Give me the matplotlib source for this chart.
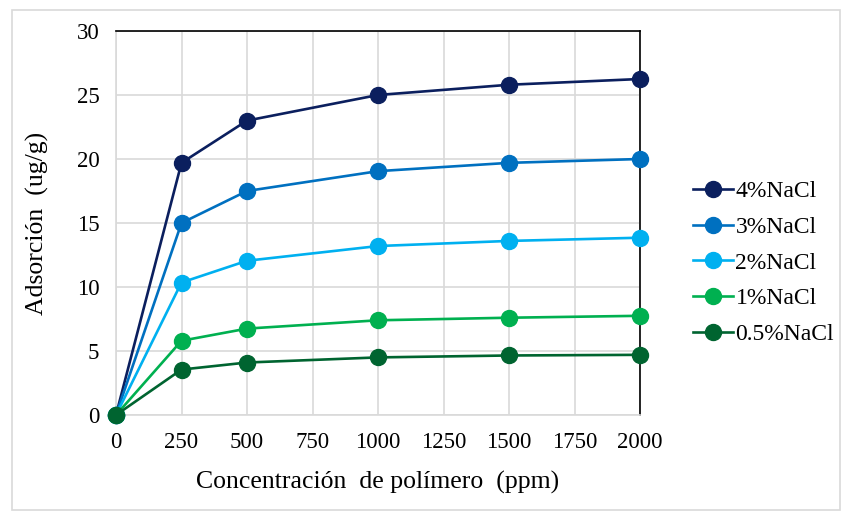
import matplotlib
matplotlib.use("Agg")
import matplotlib.pyplot as plt
from matplotlib.patches import Rectangle

plt.rcParams['font.family'] = ['Liberation Serif', 'DejaVu Serif']

conc = [0, 250, 500, 1000, 1500, 2000]
labels = ['4%NaCl', '3%NaCl', '2%NaCl', '1%NaCl', '0.5%NaCl']
nacl_4 = [0, 19.7, 23.0, 25.0, 25.8, 26.25]
nacl_3 = [0, 15.0, 17.5, 19.05, 19.7, 20.0]
nacl_2 = [0, 10.35, 12.05, 13.2, 13.6, 13.85]
nacl_1 = [0, 5.8, 6.75, 7.4, 7.6, 7.75]
nacl_05 = [0, 3.55, 4.1, 4.5, 4.65, 4.7]
colors = ['#0B1F5E', '#0070C0', '#00B0F0', '#00B050', '#006430']

series = [nacl_4, nacl_3, nacl_2, nacl_1, nacl_05]

fig = plt.figure(figsize=(8.42, 5.12), dpi=100)
fig.patches.append(Rectangle((12 / 842, 2 / 512), 828 / 842, 500 / 512, transform=fig.transFigure,
                             fill=False, edgecolor='#d9d9d9', linewidth=1.2))
ax = fig.add_axes([116 / 842, 97 / 512, 524 / 842, 384 / 512])

for vals, lab, col in zip(series, labels, colors):
    ax.plot(conc, vals, color=col, linewidth=1.9, marker='o', markersize=11.5,
            label=lab, clip_on=False, zorder=3)

ax.set_xlim(0, 2000)
ax.set_ylim(0, 30)
ax.set_xticks(range(0, 2001, 250))
ax.set_yticks(range(0, 31, 5))
ax.grid(True, color='#d9d9d9', linewidth=1.2)
ax.set_axisbelow(True)
ax.tick_params(length=0, labelsize=16.5, colors='#000000', pad=12)
ax.spines['top'].set_color('black')
ax.spines['right'].set_color('black')
ax.spines['left'].set_color('#d9d9d9')
ax.spines['bottom'].set_color('#d9d9d9')
for s in ax.spines.values():
    s.set_linewidth(1.2)

ax.set_xlabel('Concentración  de polímero  (ppm)', fontsize=18.5, labelpad=13)
ax.set_ylabel('Adsorción  (ug/g)', fontsize=18.5, labelpad=20)

ax.legend(loc='center left', bbox_to_anchor=(1.083, 0.396), frameon=False, fontsize=17,
          handlelength=1.7, handletextpad=0.1, labelspacing=0.6, borderaxespad=0)

fig.savefig('out.png', dpi=100)
